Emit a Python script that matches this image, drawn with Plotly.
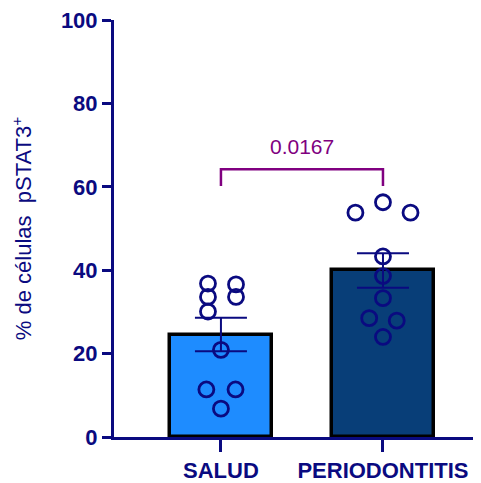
import numpy as np
import plotly.graph_objects as go

categories = ["SALUD", "PERIODONTITIS"]
salud = [36.8, 36.6, 33.6, 33.6, 30.1, 20.9, 11.4, 11.4, 6.8]
periodontitis = [56.3, 53.8, 53.8, 43.3, 38.6, 33.3, 28.5, 27.9, 24.0]
jitter_salud = [-0.08, 0.093, -0.08, 0.093, -0.08, 0.0, -0.09, 0.09, 0.0]
jitter_perio = [0.0, -0.17, 0.17, 0.0, 0.0, 0.0, -0.085, 0.085, 0.0]
p_value = "0.0167"
bracket_y = 64.2
bracket_tick = 60.2
y_ticks = [0, 20, 40, 60, 80, 100]

bar_colors = ["#1E8CFF", "#083E78"]
navy = "#0A0A80"
purple = "#800080"
font_family = "Liberation Sans, Arial, Helvetica"

groups = [salud, periodontitis]
jitters = [jitter_salud, jitter_perio]
xpos = list(range(len(categories)))
means = [float(np.mean(g)) for g in groups]
sems = [float(np.std(g, ddof=1) / np.sqrt(len(g))) for g in groups]

fig = go.Figure()
fig.add_trace(go.Bar(
    x=xpos, y=means, width=0.63,
    marker=dict(color=bar_colors, line=dict(color="black", width=3.5)),
    error_y=dict(type="data", array=sems, visible=True, color=navy, thickness=2, width=26),
    showlegend=False,
))
for i, (g, j) in enumerate(zip(groups, jitters)):
    fig.add_trace(go.Scatter(
        x=[xpos[i] + d for d in j], y=g, mode="markers",
        marker=dict(symbol="circle-open", size=15, color=navy, line=dict(width=2.8, color=navy)),
        showlegend=False, cliponaxis=False,
    ))

# significance bracket
fig.add_shape(type="path",
              path=f"M {xpos[0]} {bracket_tick} L {xpos[0]} {bracket_y} L {xpos[1]} {bracket_y} L {xpos[1]} {bracket_tick}",
              xref="x", yref="y", line=dict(color=purple, width=2.5))
fig.add_annotation(x=(xpos[0] + xpos[1]) / 2, y=bracket_y, yshift=23, text=p_value,
                   showarrow=False, font=dict(family=font_family, size=21, color=purple))

# page body has an 8px margin: compensate so the plot lands where the reference is
fig.update_layout(
    width=473, height=475,
    margin=dict(l=106, r=0, t=9, b=46),
    plot_bgcolor="white", paper_bgcolor="white",
    bargap=0,
)
fig.update_xaxes(
    range=[-0.66, 1.605], tickvals=xpos, ticktext=categories,
    showline=True, linecolor=navy, linewidth=3, ticks="outside", ticklen=12, tickwidth=3, tickcolor=navy,
    tickfont=dict(family=font_family, size=22, color=navy, weight="bold"),
    showgrid=False, zeroline=False,
)
fig.update_yaxes(
    range=[0, 100], tickvals=y_ticks, ticklabeloverflow="allow",
    showline=True, linecolor=navy, linewidth=3, ticks="outside", ticklen=9, tickwidth=3, tickcolor=navy,
    tickfont=dict(family=font_family, size=22, color=navy, weight="bold"),
    showgrid=False, zeroline=False,
    title=dict(text="% de células\u00a0 pSTAT3<sup>+</sup>", standoff=30,
               font=dict(family=font_family, size=22, color=navy)),
)
fig.write_html("out.html")
